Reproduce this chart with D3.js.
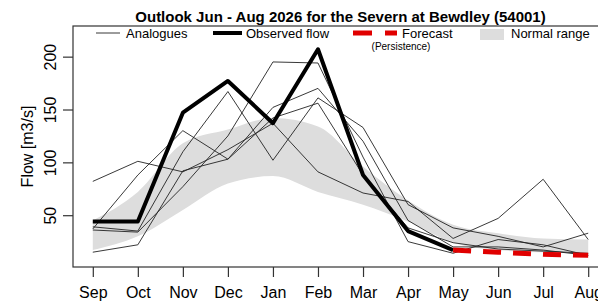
<!DOCTYPE html>
<html>
<head>
<meta charset="utf-8">
<script src="https://cdn.jsdelivr.net/npm/d3@7"></script>
<style>
  body { margin: 0; background: #fff; }
  svg { display: block; font-family: "Liberation Sans", Arial, sans-serif; }
</style>
</head>
<body>
<div class="chart-div"></div>
<script>
//--------------------------- Data

var months = ["Sep", "Oct", "Nov", "Dec", "Jan", "Feb", "Mar", "Apr", "May", "Jun", "Jul", "Aug"];

var observed = [44, 44, 147, 177, 137, 207, 88, 35, 17];

var forecastMonths = ["May", "Jun", "Jul", "Aug"];
var forecast = [17, 15, 13, 12];

var normalUpper = [45, 72, 118, 131, 142, 134, 96, 64, 41, 33, 28, 27];
var normalLower = [17, 30, 55, 80, 87, 72, 60, 44, 24, 17, 15, 15];

var analogue1 = [82, 101, 91, 112, 137, 91, 71, 63, 28, 47, 84, 27];
var analogue2 = [37, 88, 130, 103, 152, 170, 120, 45, 20, 20, 17, 12];
var analogue3 = [39, 35, 110, 167, 102, 161, 133, 60, 38, 30, 20, 33];
var analogue4 = [36, 34, 77, 125, 195, 194, 105, 25, 14, 27, 22, 12];
var analogue5 = [15, 22, 92, 103, 142, 156, 88, 38, 24, 18, 16, 14];

var yTicks = [50, 100, 150, 200];

//--------------------------- SVG definition

var width = 598;
var height = 302;

var svg = d3.select("div.chart-div")
    .append("svg")
    .attr("width", width)
    .attr("height", height);

//--------------------------- Scales

var pLeft = 73, pRight = 608, pTop = 26, pBottom = 267;

var x = d3.scalePoint()
    .domain(months)
    .range([pLeft + 19.8, pRight - 19.8]);

var y = d3.scaleLinear()
    .domain([1, 229])
    .range([pBottom, pTop]);

var lineGen = d3.line()
    .x(function (d) { return x(d.m); })
    .y(function (d) { return y(d.v); });

function pairs(ms, vals) {
    return vals.map(function (v, i) { return { m: ms[i], v: v }; });
}

//--------------------------- Normal range band

var band = months.map(function (m, i) {
    return { m: m, lo: normalLower[i], hi: normalUpper[i] };
});

svg.append("path")
    .attr("d", d3.area()
        .curve(d3.curveMonotoneX)
        .x(function (d) { return x(d.m); })
        .y0(function (d) { return y(d.lo); })
        .y1(function (d) { return y(d.hi); })(band))
    .style("fill", "#dddddd")
    .style("stroke", "none");

//--------------------------- Analogues

[analogue1, analogue2, analogue3, analogue4, analogue5].forEach(function (a) {
    svg.append("path")
        .attr("d", lineGen(pairs(months, a)))
        .style("fill", "none")
        .style("stroke", "#222")
        .style("stroke-width", 0.9);
});

//--------------------------- Observed and forecast

svg.append("path")
    .attr("d", lineGen(pairs(months, observed)))
    .style("fill", "none")
    .style("stroke", "#000")
    .style("stroke-width", 4)
    .style("stroke-linejoin", "round");

svg.append("path")
    .attr("d", lineGen(pairs(forecastMonths, forecast)))
    .style("fill", "none")
    .style("stroke", "#e00000")
    .style("stroke-width", 5)
    .style("stroke-dasharray", "18,12");

//--------------------------- Plot box

svg.append("rect")
    .attr("x", pLeft)
    .attr("y", pTop)
    .attr("width", pRight - pLeft)
    .attr("height", pBottom - pTop)
    .style("fill", "none")
    .style("stroke", "#333")
    .style("stroke-width", 1.2);

//--------------------------- Axes

var xAxis = svg.append("g")
    .attr("transform", "translate(0," + pBottom + ")")
    .call(d3.axisBottom(x).tickSize(10).tickPadding(9.5));
xAxis.select(".domain").remove();
xAxis.selectAll("line").style("stroke", "#333").style("stroke-width", 1.2);
xAxis.selectAll("text").style("font-size", "16px").style("fill", "#000")
    .style("font-family", "Liberation Sans, Arial, sans-serif");

var yAxis = svg.append("g")
    .attr("transform", "translate(" + pLeft + ",0)")
    .call(d3.axisLeft(y).tickValues(yTicks).tickSize(10));
yAxis.select(".domain").remove();
yAxis.selectAll("line").style("stroke", "#333").style("stroke-width", 1.2);
yAxis.selectAll("text")
    .attr("x", null).attr("dy", null)
    .attr("transform", "translate(-17,0) rotate(-90)")
    .attr("text-anchor", "middle")
    .style("font-size", "16px").style("fill", "#000")
    .style("font-family", "Liberation Sans, Arial, sans-serif");

svg.append("text")
    .attr("transform", "translate(33," + ((pTop + pBottom) / 2) + ") rotate(-90)")
    .attr("text-anchor", "middle")
    .style("font-size", "16px")
    .text("Flow [m3/s]");

//--------------------------- Title

svg.append("text")
    .attr("x", (pLeft + pRight) / 2)
    .attr("y", 21.5)
    .attr("text-anchor", "middle")
    .style("font-size", "15px")
    .style("font-weight", "bold")
    .text("Outlook Jun - Aug 2026 for the Severn at Bewdley (54001)");

//--------------------------- Legend

legend = svg.append("g");

legend.append("line")
    .attr("x1", 96).attr("x2", 120).attr("y1", 33).attr("y2", 33)
    .style("stroke", "#222").style("stroke-width", 0.9);
legend.append("text").attr("x", 126).attr("y", 38).style("font-size", "13px").text("Analogues");

legend.append("line")
    .attr("x1", 213).attr("x2", 242).attr("y1", 33).attr("y2", 33)
    .style("stroke", "#000").style("stroke-width", 4);
legend.append("text").attr("x", 246).attr("y", 38).style("font-size", "13px").text("Observed flow");

legend.append("line")
    .attr("x1", 353).attr("x2", 397).attr("y1", 33).attr("y2", 33)
    .style("stroke", "#e00000").style("stroke-width", 5)
    .style("stroke-dasharray", "19,13");
legend.append("text").attr("x", 402).attr("y", 38).style("font-size", "13px").text("Forecast");
legend.append("text").attr("x", 401).attr("y", 50).attr("text-anchor", "middle")
    .style("font-size", "10px").text("(Persistence)");

legend.append("rect")
    .attr("x", 480).attr("y", 29).attr("width", 24).attr("height", 11)
    .style("fill", "#dddddd");
legend.append("text").attr("x", 511).attr("y", 38).style("font-size", "13px").text("Normal range");
</script>
</body>
</html>
